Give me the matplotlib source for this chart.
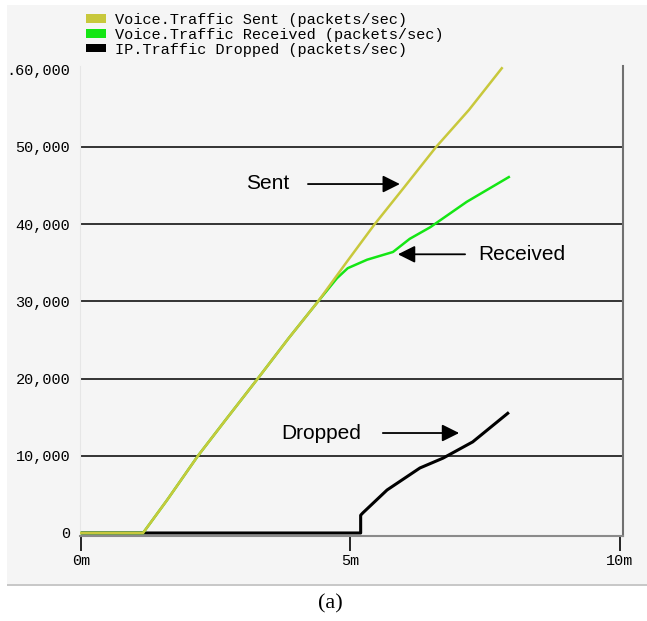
import numpy as np
import matplotlib
matplotlib.use('Agg')
import matplotlib.pyplot as plt
from matplotlib.patches import Rectangle

# series (time in minutes, packets/sec)
sent_t = [0, 1.15, 1.6, 2.17, 2.7, 3.28, 3.85, 4.40, 4.92, 5.45, 6.0, 6.59, 7.2, 7.81]
sent_v = [0, 0, 4300, 10000, 14800, 20000, 25200, 30000, 35000, 40000, 44800, 50000, 54800, 60200]

recv_t = [0, 1.15, 1.6, 2.17, 2.7, 3.28, 3.85, 4.40, 4.75, 4.95, 5.31, 5.79, 6.10, 6.48, 7.16, 7.94]
recv_v = [0, 0, 4300, 10000, 14800, 20000, 25200, 30000, 33000, 34300, 35400, 36400, 38100, 39600,
          42900, 46100]

drop_t = [0, 5.19, 5.19, 5.23, 5.68, 6.29, 6.72, 7.27, 7.92]
drop_v = [0, 0, 2300, 2600, 5570, 8420, 9700, 11800, 15500]

labels = ['Voice.Traffic Sent (packets/sec)',
          'Voice.Traffic Received (packets/sec)',
          'IP.Traffic Dropped (packets/sec)']
colors = ['#c8c83c', '#14e614', '#000000']

y_ticks = [0, 10000, 20000, 30000, 40000, 50000, 60000]
y_ticklabels = ['0', '10,000', '20,000', '30,000', '40,000', '50,000', '.60,000']
x_ticks = [0, 5, 10]
x_ticklabels = ['0m', '5m', '10m']

W, H = 647, 621
fig = plt.figure(figsize=(W / 100, H / 100), dpi=100)
fig.patch.set_facecolor('white')

# grey panel behind everything
fig.patches.append(Rectangle((7 / W, 1 - 584 / H), 1, 579 / H, transform=fig.transFigure,
                             facecolor='#f5f5f5', edgecolor='none', zorder=-2))
fig.patches.append(Rectangle((7 / W, 1 - 586 / H), 1, 2.5 / H, transform=fig.transFigure,
                             facecolor='#c8c8c8', edgecolor='none', zorder=-1))

ax = fig.add_axes([80 / W, 1 - 536 / H, 543 / W, 470 / H])
ax.set_facecolor('#f5f5f5')
ax.set_xlim(-0.02, 10.06)
ax.set_ylim(-390, 60490)

for gy in y_ticks[1:-1]:
    ax.axhline(gy, color='#333333', lw=1.4, zorder=1)

ax.plot(drop_t, drop_v, color=colors[2], lw=2.2, zorder=2)
ax.plot(recv_t, recv_v, color=colors[1], lw=1.8, zorder=3)
ax.plot(sent_t, sent_v, color=colors[0], lw=1.8, zorder=4)

ax.spines['top'].set_visible(False)
ax.spines['left'].set_color('#e6e6e6')
ax.spines['left'].set_linewidth(0.8)
ax.spines['right'].set_color('#707070')
ax.spines['right'].set_linewidth(1.5)
ax.spines['bottom'].set_color('#8a8a8a')
ax.spines['bottom'].set_linewidth(1.5)

mono = 'Liberation Mono'
ax.set_yticks(y_ticks)
ax.set_yticklabels(y_ticklabels, family=mono, fontsize=11)
ax.tick_params(axis='y', length=0, pad=7)
ax.set_xticks(x_ticks)
ax.set_xticklabels(x_ticklabels, family=mono, fontsize=11)
ax.tick_params(axis='x', direction='out', length=11, width=1.2, color='black', pad=2)

# legend
handles = [Rectangle((0, 0), 1, 1, facecolor=c, edgecolor='none') for c in colors]
fig.legend(handles, labels, loc='upper left', bbox_to_anchor=(86 / W, 1 - 13 / H),
           frameon=False, prop={'family': mono, 'size': 11}, handlelength=1.3,
           handleheight=0.5, handletextpad=0.6, labelspacing=0.05, borderpad=0,
           borderaxespad=0)

# annotations
arrow = dict(arrowstyle='-|>', color='black', lw=1.3, mutation_scale=26)
ax.annotate('', xy=(5.97, 45200), xytext=(4.16, 45200), arrowprops=arrow)
ax.text(3.47, 45300, 'Sent', ha='center', va='center', family='Liberation Sans', fontsize=15)
ax.annotate('', xy=(5.83, 36100), xytext=(7.18, 36100), arrowprops=arrow)
ax.text(8.18, 36100, 'Received', ha='center', va='center', family='Liberation Sans', fontsize=15)
ax.annotate('', xy=(7.07, 12950), xytext=(5.55, 12950), arrowprops=arrow)
ax.text(4.45, 12950, 'Dropped', ha='center', va='center', family='Liberation Sans', fontsize=15)

fig.text(330 / W, 1 - 604 / H, '(a)', ha='center', va='center', family='Liberation Serif',
         fontsize=16)

fig.savefig('out.png', dpi=100)
